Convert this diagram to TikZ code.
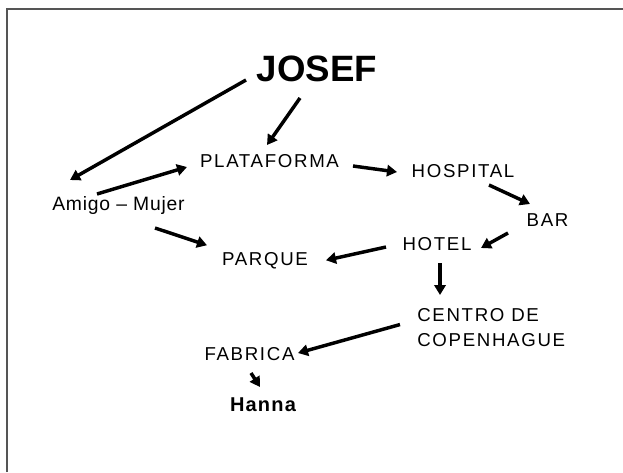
\documentclass[tikz,border=0pt]{standalone}
\usepackage{fontspec}
\setmainfont{Liberation Sans}
\usepackage{tikz}
\usetikzlibrary{arrows.meta, positioning, calc}
\definecolor{framegray}{RGB}{85,85,85}

\begin{document}
\begin{tikzpicture}[
    x=0.75pt, y=-0.75pt,
    place/.style={inner sep=0pt, font=\fontsize{14}{16}\selectfont\addfontfeatures{LetterSpace=9}},
    person/.style={inner sep=0pt, font=\fontsize{15}{18}\selectfont\bfseries\addfontfeatures{LetterSpace=6}},
    arrow/.style={-{Triangle[length=7.5pt, width=8.5pt]}, line width=2.6pt, black}
]

\useasboundingbox (0,0) rectangle (623,472);
\draw[framegray, line width=1.2pt] (7,472) -- (7,9) -- (623,9);

\node[inner sep=0pt, font=\fontsize{27.5}{30}\selectfont\bfseries] (josef) at (317,68.5) {JOSEF};
\node[place] (plataforma) at (269.5,161.5) {PLATAFORMA};
\node[place] (hospital) at (463,171) {HOSPITAL};
\node[place, font=\fontsize{14.5}{16}\selectfont\addfontfeatures{LetterSpace=4}] (amigo) at (118.5,205) {Amigo -- Mujer};
\node[place] (bar) at (547.5,220.5) {BAR};
\node[place] (hotel) at (437,244.5) {HOTEL};
\node[place, anchor=base] (parque) at (265,265) {PARQUE};
\node[place, align=left, anchor=north west, font=\fontsize{14}{19}\selectfont\addfontfeatures{LetterSpace=9}] (centro) at (417,308) {CENTRO DE\\COPENHAGUE};
\node[place] (fabrica) at (249.5,354.5) {FABRICA};
\node[person] (hanna) at (263,405) {Hanna};

\draw[arrow] ([shift={(-71,11.5)}]josef.center) -- ([shift={(-48.5,-25)}]amigo.center);
\draw[arrow] ([shift={(-17,29.5)}]josef.center) -- ([shift={(-2.5,-16.5)}]plataforma.center);
\draw[arrow] ([shift={(-21.5,-11)}]amigo.center) -- ([shift={(-82.5,5.5)}]plataforma.center);
\draw[arrow] ([shift={(83.5,4.5)}]plataforma.center) -- ([shift={(-66,1)}]hospital.center);
\draw[arrow] ([shift={(26,14)}]hospital.center) -- ([shift={(-17.5,-16.5)}]bar.center);
\draw[arrow] ([shift={(-39.5,12.5)}]bar.center) -- ([shift={(44,3.5)}]hotel.center);
\draw[arrow] ([shift={(-51,2.5)}]hotel.center) -- ([shift={(61,0)}]parque.center);
\draw[arrow] ([shift={(36.5,23)}]amigo.center) -- ([shift={(-58,-15)}]parque.center);
\draw[arrow] ([shift={(3,18.5)}]hotel.center) -- ([shift={(23,-13)}]centro.north west);
\draw[arrow] ([shift={(-17,-3)}]centro.west) -- ([shift={(48.5,-1.5)}]fabrica.center);
\draw[arrow] ([shift={(1.5,18.5)}]fabrica.center) -- ([shift={(-3,-18)}]hanna.center);

\end{tikzpicture}
\end{document}
